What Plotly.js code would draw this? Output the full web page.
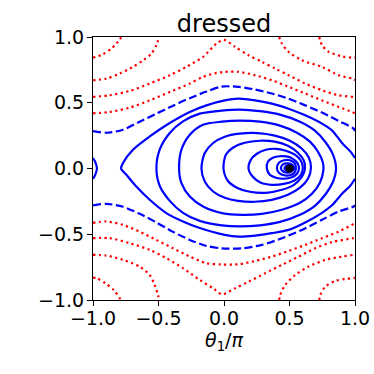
<!DOCTYPE html>
<html>
<head>
<meta charset="utf-8">
<script src="https://cdn.plot.ly/plotly-3.0.1.min.js"></script>
<style>
  html, body { margin: 0; padding: 0; background: #fff; }
  #plot { width: 374px; height: 374px; }
</style>
</head>
<body>
<div id="plot"></div>
<script>
// contour lines, [theta/pi, p] pairs

// red dotted, outside the separatrix (top)
const R1L = [[-1.0,0.843],[-0.924,0.869],[-0.860,0.912],[-0.822,0.950],[-0.797,0.981],[-0.781,1.0]];
const R1R = [[0.727,1.0],[0.748,0.938],[0.799,0.887],[0.901,0.853],[0.982,0.843],[1.0,0.843]];
const R2L = [[-1.0,0.671],[-0.898,0.684],[-0.797,0.722],[-0.695,0.773],[-0.618,0.823],[-0.554,0.874],[-0.516,0.938],[-0.496,1.0]];
const R2R = [[0.421,1.0],[0.442,0.950],[0.493,0.887],[0.595,0.823],[0.748,0.773],[0.875,0.709],[0.977,0.684],[1.0,0.671]];
const R3 = [[-1.0,0.544],[-0.873,0.557],[-0.720,0.590],[-0.567,0.646],[-0.414,0.709],[-0.287,0.773],[-0.160,0.849],
  [-0.057,0.950],[0.0,0.978],[0.085,0.925],[0.187,0.861],[0.289,0.811],[0.391,0.760],[0.493,0.709],[0.620,0.646],
  [0.748,0.595],[0.875,0.557],[0.990,0.544],[1.0,0.544]];
const R4 = [[-1.0,0.420],[-0.873,0.430],[-0.720,0.463],[-0.567,0.518],[-0.414,0.582],[-0.261,0.646],[-0.160,0.697],
  [-0.057,0.727],[0.006,0.735],[0.111,0.735],[0.238,0.709],[0.365,0.671],[0.493,0.621],[0.620,0.570],[0.748,0.518],
  [0.875,0.468],[0.977,0.430],[1.0,0.420]];

// red dotted (bottom)
const B1L = [[-1.0,-0.830],[-0.970,-0.835],[-0.906,-0.873],[-0.842,-0.924],[-0.796,-0.987],[-0.793,-1.0]];
const B1R = [[0.727,-1.0],[0.735,-0.962],[0.773,-0.899],[0.849,-0.855],[0.926,-0.840],[0.990,-0.833],[1.0,-0.830]];
const B2L = [[-1.0,-0.657],[-0.898,-0.662],[-0.771,-0.695],[-0.644,-0.746],[-0.567,-0.810],[-0.529,-0.886],[-0.504,-0.962],[-0.496,-1.0]];
const B2R = [[0.421,-1.0],[0.429,-0.962],[0.467,-0.886],[0.544,-0.810],[0.646,-0.746],[0.773,-0.695],[0.901,-0.670],[0.990,-0.657],[1.0,-0.657]];
const B3 = [[-1.0,-0.530],[-0.873,-0.530],[-0.720,-0.568],[-0.567,-0.619],[-0.440,-0.682],[-0.313,-0.758],[-0.185,-0.848],
  [-0.083,-0.911],[-0.017,-0.957],[0.085,-0.911],[0.187,-0.861],[0.314,-0.797],[0.442,-0.733],[0.570,-0.670],
  [0.696,-0.606],[0.824,-0.560],[0.990,-0.530],[1.0,-0.530]];
const B4 = [[-1.0,-0.413],[-0.898,-0.403],[-0.771,-0.429],[-0.644,-0.480],[-0.516,-0.543],[-0.389,-0.606],[-0.261,-0.670],
  [-0.134,-0.720],[-0.017,-0.730],[0.111,-0.728],[0.238,-0.703],[0.365,-0.670],[0.493,-0.627],[0.620,-0.581],
  [0.748,-0.530],[0.875,-0.480],[0.990,-0.421],[1.0,-0.413]];

// blue dashed separatrix
const SEP_TOP = [[-1.0,0.285],[-0.898,0.272],[-0.771,0.295],[-0.644,0.356],[-0.516,0.417],[-0.389,0.478],[-0.261,0.535],
  [-0.134,0.585],[-0.017,0.623],[0.111,0.621],[0.238,0.600],[0.365,0.570],[0.493,0.531],[0.620,0.480],[0.748,0.425],
  [0.875,0.362],[0.990,0.303],[1.0,0.285]];
const SEP_BOT = [[-1.0,-0.280],[-0.898,-0.269],[-0.771,-0.291],[-0.644,-0.345],[-0.516,-0.410],[-0.389,-0.482],[-0.261,-0.543],
  [-0.134,-0.589],[-0.017,-0.607],[0.136,-0.607],[0.289,-0.581],[0.442,-0.530],[0.595,-0.467],[0.748,-0.390],
  [0.875,-0.327],[0.990,-0.289],[1.0,-0.280]];

// blue solid orbits around (0.5, 0)
const S1 = [[1.0,0.080],[0.964,0.130],[0.901,0.194],[0.824,0.290],[0.748,0.341],[0.620,0.404],[0.493,0.455],[0.365,0.493],
  [0.238,0.518],[0.111,0.531],[0.006,0.518],[-0.134,0.480],[-0.261,0.430],[-0.414,0.346],[-0.567,0.244],[-0.695,0.143],
  [-0.771,0.042],[-0.786,0.0],[-0.745,-0.048],[-0.669,-0.137],[-0.567,-0.238],[-0.440,-0.339],[-0.313,-0.403],
  [-0.185,-0.453],[0.006,-0.505],[0.111,-0.518],[0.238,-0.510],[0.365,-0.492],[0.493,-0.467],[0.620,-0.410],
  [0.748,-0.337],[0.824,-0.280],[0.901,-0.192],[0.964,-0.131],[1.0,-0.078]];
const S1_EDGE = [[-1.0,0.080],[-0.983,0.050],[-0.970,0.0],[-0.983,-0.048],[-1.0,-0.078]];
const S2 = [[-0.516,0.0],[-0.491,0.143],[-0.414,0.270],[-0.313,0.358],[-0.185,0.417],[-0.017,0.440],[0.121,0.448],
  [0.274,0.436],[0.427,0.410],[0.580,0.356],[0.694,0.288],[0.778,0.196],[0.832,0.105],[0.855,0.0],[0.832,-0.101],
  [0.778,-0.192],[0.694,-0.284],[0.580,-0.352],[0.427,-0.406],[0.274,-0.432],[0.121,-0.440],[-0.017,-0.432],
  [-0.185,-0.398],[-0.313,-0.337],[-0.414,-0.246],[-0.491,-0.131]];
const S3 = [[-0.343,0.0],[-0.325,0.143],[-0.261,0.257],[-0.160,0.333],[-0.017,0.356],[0.121,0.364],[0.274,0.356],
  [0.427,0.326],[0.557,0.272],[0.656,0.204],[0.717,0.128],[0.755,0.044],[0.759,-0.010],[0.732,-0.108],[0.671,-0.192],
  [0.580,-0.261],[0.442,-0.314],[0.289,-0.345],[0.136,-0.352],[-0.007,-0.341],[-0.160,-0.289],[-0.261,-0.213],[-0.325,-0.111]];
const S4 = [[-0.172,0.0],[-0.147,0.118],[-0.083,0.194],[0.006,0.242],[0.121,0.265],[0.258,0.269],[0.388,0.250],
  [0.503,0.211],[0.595,0.150],[0.648,0.082],[0.664,0.006],[0.641,-0.078],[0.580,-0.146],[0.488,-0.200],[0.365,-0.238],
  [0.235,-0.253],[0.106,-0.246],[0.006,-0.223],[-0.083,-0.175],[-0.147,-0.099]];
const S5 = [[-0.004,0.0],[0.014,0.105],[0.067,0.158],[0.159,0.196],[0.274,0.211],[0.388,0.204],[0.488,0.173],
  [0.564,0.120],[0.610,0.059],[0.618,-0.002],[0.595,-0.063],[0.534,-0.124],[0.442,-0.162],[0.320,-0.185],
  [0.197,-0.177],[0.098,-0.146],[0.029,-0.093]];
const S6 = [[0.187,0.0],[0.205,0.067],[0.251,0.112],[0.320,0.143],[0.396,0.150],[0.472,0.135],[0.541,0.105],
  [0.587,0.059],[0.602,0.006],[0.587,-0.048],[0.534,-0.093],[0.457,-0.117],[0.365,-0.124],[0.281,-0.109],[0.220,-0.063]];
const S7 = [[0.327,0.0],[0.335,0.051],[0.373,0.082],[0.427,0.093],[0.488,0.090],[0.534,0.067],[0.564,0.036],
  [0.572,-0.002],[0.557,-0.040],[0.518,-0.067],[0.457,-0.078],[0.396,-0.070],[0.350,-0.048]];
const SP1 = [[0.404,0.0],[0.419,0.044],[0.457,0.063],[0.503,0.063],[0.537,0.044],[0.549,0.0],[0.537,-0.032],
  [0.503,-0.051],[0.457,-0.051],[0.419,-0.032]];
const SP2 = [[0.434,0.0],[0.450,0.032],[0.484,0.040],[0.518,0.032],[0.537,0.0],[0.518,-0.021],[0.484,-0.032],[0.450,-0.021]];
const SP3 = [[0.461,0.0],[0.480,0.025],[0.511,0.025],[0.526,0.0],[0.511,-0.017],[0.480,-0.017]];

// fixed point
const FIX_T = [0.5];
const FIX_P = [0.0];

const TICKS = [-1, -0.5, 0, 0.5, 1];
const TICK_TEXT = ["\u22121.0", "\u22120.5", "0.0", "0.5", "1.0"];

const RED = "#ff0000";
const BLUE = "#0000ff";
const FONT = "DejaVu Sans, sans-serif";

function line(pts, color, dash, closed) {
  const p = closed ? pts.concat([pts[0]]) : pts;
  return {
    x: p.map(d => d[0]), y: p.map(d => d[1]),
    type: "scatter", mode: "lines", hoverinfo: "skip",
    line: { color, width: 2.2, dash, shape: "spline", smoothing: 0.8 },
  };
}

const dotted = "2.2px,3.4px";
const dashed = "8px,3.5px";

const traces = [
  ...[R1L, R1R, R2L, R2R, R3, R4, B1L, B1R, B2L, B2R, B3, B4].map(c => line(c, RED, dotted, false)),
  ...[SEP_TOP, SEP_BOT].map(c => line(c, BLUE, dashed, false)),
  ...[S1, S1_EDGE].map(c => line(c, BLUE, "solid", false)),
  ...[S2, S3, S4, S5, S6, S7, SP1, SP2, SP3].map(c => line(c, BLUE, "solid", true)),
  {
    x: FIX_T, y: FIX_P, type: "scatter", mode: "markers", hoverinfo: "skip",
    marker: { color: "#000", size: 8 },
  },
];

const axisCommon = {
  range: [-1, 1],
  tickvals: TICKS, ticktext: TICK_TEXT,
  ticks: "outside", ticklen: 5, tickwidth: 1, tickcolor: "#000",
  showline: true, mirror: true, linecolor: "#000", linewidth: 1,
  showgrid: false, zeroline: false,
  tickfont: { family: FONT, size: 19, color: "#000" },
};

const layout = {
  width: 374, height: 374,
  margin: { l: 93, r: 19, t: 37, b: 74 },
  title: {
    text: "dressed",
    font: { family: FONT, size: 24, color: "#000" },
    xref: "paper", x: 0.5, xanchor: "center",
    yref: "container", y: 0.938, yanchor: "middle",
  },
  xaxis: {
    ...axisCommon,
    ticklabelstandoff: -4,
    title: { text: "<i>θ</i><sub>1</sub>/<i>π</i>", font: { family: FONT, size: 19, color: "#000" }, standoff: 2 },
  },
  yaxis: { ...axisCommon, ticklabelstandoff: -1 },
  showlegend: false,
  plot_bgcolor: "white",
  paper_bgcolor: "white",
};

Plotly.newPlot("plot", traces, layout, { staticPlot: true });
</script>
</body>
</html>
